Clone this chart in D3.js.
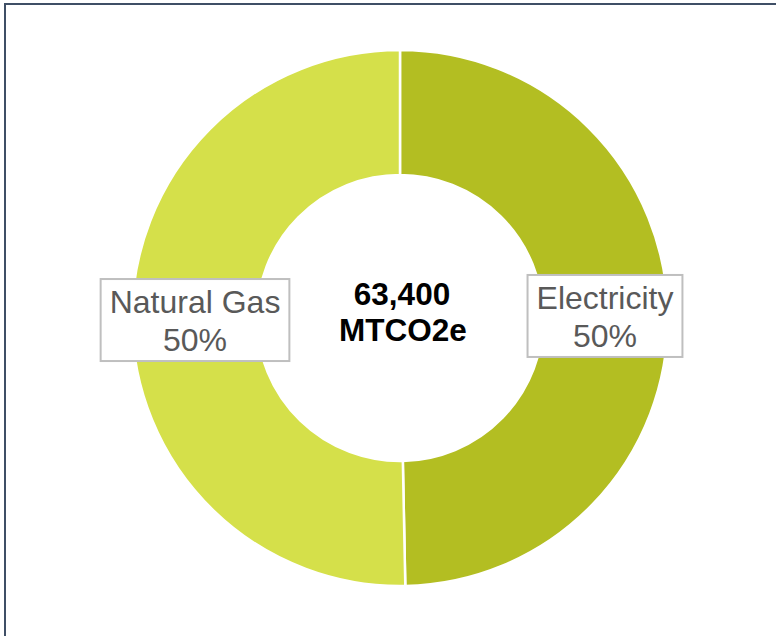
<!DOCTYPE html>
<html>
<head>
<meta charset="utf-8">
<script src="https://cdn.jsdelivr.net/npm/d3@7"></script>
<style>
  html, body { margin: 0; padding: 0; background: #ffffff; }
  svg { display: block; }
</style>
</head>
<body>
<svg id="chart" width="776" height="636"></svg>
<script>
// Emissions by energy source (MTCO2e)
const sources = ["Electricity", "Natural Gas"];
const emissions = [31500, 31900];
const sliceColors = ["#b3be22", "#d5e04a"];
const centerLines = ["63,400", "MTCO2e"];

const width = 776, height = 636;
const cx = 400, cy = 318;
const outerR = 268, innerR = 143, labelR = 205;

const svg = d3.select("#chart");

// frame around the figure
svg.append("path")
  .attr("d", `M5,${height + 2} L5,4 L${width + 2},4`)
  .attr("fill", "none")
  .attr("stroke", "#3f4f66")
  .attr("stroke-width", 2);

const data = sources.map((s, i) => ({ source: s, value: emissions[i], color: sliceColors[i] }));
const total = d3.sum(emissions);

const pie = d3.pie().value(d => d.value).sort(null);
const arc = d3.arc().innerRadius(innerR).outerRadius(outerR);
const labelArc = d3.arc().innerRadius(labelR).outerRadius(labelR);

const g = svg.append("g").attr("transform", `translate(${cx},${cy})`);
const arcs = pie(data);

g.selectAll("path.slice")
  .data(arcs)
  .join("path")
  .attr("class", "slice")
  .attr("d", arc)
  .attr("fill", d => d.data.color)
  .attr("stroke", "#ffffff")
  .attr("stroke-width", 2.5);

// centre total
const centre = g.append("text")
  .attr("text-anchor", "middle")
  .attr("font-family", "'Liberation Sans', Arial, sans-serif")
  .attr("font-weight", "bold")
  .attr("font-size", 31.5)
  .attr("fill", "#000000");
centre.append("tspan").attr("x", 2).attr("y", -13).text(centerLines[0]);
centre.append("tspan").attr("x", 3).attr("y", 23).text(centerLines[1]);

// boxed category labels
const fmtPct = d3.format(".0%");
arcs.forEach(a => {
  const [lx, ly] = labelArc.centroid(a);
  const lg = g.append("g").attr("transform", `translate(${lx},${ly})`);
  const box = lg.append("rect");
  const t = lg.append("text")
    .attr("text-anchor", "middle")
    .attr("font-family", "'Liberation Sans', Arial, sans-serif")
    .attr("font-size", 32)
    .attr("fill", "#595959");
  t.append("tspan").attr("x", 0).attr("y", -7).text(a.data.source);
  t.append("tspan").attr("x", 0).attr("y", 31).text(fmtPct(a.data.value / total));
  const bb = t.node().getBBox();
  const padX = 9;
  box.attr("x", bb.x - padX)
    .attr("y", -41)
    .attr("width", bb.width + padX * 2)
    .attr("height", 82)
    .attr("fill", "#ffffff")
    .attr("stroke", "#bfbfbf")
    .attr("stroke-width", 2);
});
</script>
</body>
</html>
